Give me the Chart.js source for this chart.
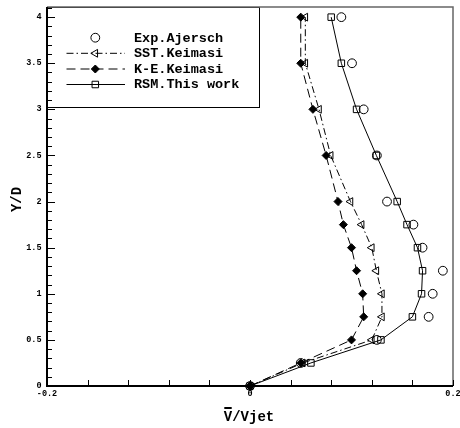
<!DOCTYPE html>
<html>
<head>
<meta charset="utf-8">
<script src="https://cdn.jsdelivr.net/npm/chart.js@4/dist/chart.umd.min.js"></script>
<style>
    html, body { margin: 0; padding: 0; background: #fff; }
    #wrap { width: 460px; height: 428px; }
</style>
</head>
<body>
<div id="wrap"><canvas id="profile" width="460" height="428"></canvas></div>
<script>
// Y/D stations
const yLevels = [0, 0.25, 0.5, 0.75, 1, 1.25, 1.5, 1.75, 2, 2.5, 3, 3.5, 4];

// V/Vjet per series, same order as yLevels
const expAjersch = [0, 0.050, 0.125, 0.176, 0.180, 0.190, 0.170, 0.161, 0.135, 0.125, 0.112, 0.1005, 0.090];
const sstKeimasi = [0, 0.052, 0.120, 0.130, 0.130, 0.1245, 0.120, 0.110, 0.099, 0.0795, 0.068, 0.0545, 0.0545];
const keKeimasi  = [0, 0.050, 0.100, 0.112, 0.111, 0.105, 0.100, 0.092, 0.0867, 0.075, 0.062, 0.050, 0.050];
const rsmThisWork = [0, 0.060, 0.129, 0.160, 0.169, 0.170, 0.165, 0.1547, 0.145, 0.1245, 0.105, 0.090, 0.080];

const seriesNames = ['Exp.Ajersch', 'SST.Keimasi', 'K-E.Keimasi', 'RSM.This work'];

// axis ticks
const xTickMarks = [-0.2, -0.16, -0.12, -0.08, -0.04, 0, 0.04, 0.08, 0.12, 0.16, 0.2];
const xTickLabels = ['-0.2', '0', '0.2'];
const yTickLabels = ['0', '0.5', '1', '1.5', '2', '2.5', '3', '3.5', '4'];

function toPoints(xs) {
    return xs.map(function(v, i) { return { x: v, y: yLevels[i] }; });
}

const MONO = '"Liberation Mono", "DejaVu Sans Mono", monospace';

const datasets = [
    {
        label: seriesNames[0],
        data: toPoints(expAjersch),
        showLine: false,
        pointStyle: 'circle',
        pointRadius: 4.4,
        pointBorderWidth: 1,
        borderColor: '#000',
        pointBorderColor: '#000',
        pointBackgroundColor: 'rgba(0,0,0,0)',
    },
    {
        label: seriesNames[1],
        data: toPoints(sstKeimasi),
        showLine: true,
        borderColor: '#000',
        borderWidth: 1,
        borderDash: [7, 3, 1.5, 3],
        pointStyle: 'triangle',
        pointRotation: -90,
        pointRadius: 4.5,
        pointBorderWidth: 1,
        pointBorderColor: '#000',
        pointBackgroundColor: 'rgba(255,255,255,0)',
    },
    {
        label: seriesNames[2],
        data: toPoints(keKeimasi),
        showLine: true,
        borderColor: '#000',
        borderWidth: 1,
        borderDash: [9, 5],
        pointStyle: 'rectRot',
        pointRadius: 4,
        pointBorderWidth: 1,
        pointBorderColor: '#000',
        pointBackgroundColor: '#000',
    },
    {
        label: seriesNames[3],
        data: toPoints(rsmThisWork),
        showLine: true,
        borderColor: '#000',
        borderWidth: 1,
        pointStyle: 'rect',
        pointRadius: 4.6,
        pointBorderWidth: 1,
        pointBorderColor: '#000',
        pointBackgroundColor: 'rgba(255,255,255,0)',
    }
];

/* frame, inward ticks, tick labels, titles and the boxed legend */
const decorPlugin = {
    id: 'decor',
    afterDatasetsDraw: function(chart) {
        const ctx = chart.ctx;
        const area = chart.chartArea;
        const xs = chart.scales.x;
        const ys = chart.scales.y;

        ctx.save();

        // legend box
        const lx0 = area.left, ly0 = area.top, lx1 = 259, ly1 = 107;
        ctx.fillStyle = '#fff';
        ctx.fillRect(lx0, ly0, lx1 - lx0, ly1 - ly0);
        ctx.strokeStyle = '#000';
        ctx.lineWidth = 1;
        ctx.strokeRect(lx0 + 0.5, ly0 + 0.5, lx1 - lx0, ly1 - ly0);

        const rowsY = [37.7, 53.3, 69, 84.5];
        datasets.forEach(function(ds, i) {
            const ry = rowsY[i];
            if (ds.showLine) {
                ctx.beginPath();
                ctx.setLineDash(ds.borderDash || []);
                ctx.strokeStyle = '#000';
                ctx.lineWidth = 1;
                ctx.moveTo(66.5, ry);
                ctx.lineTo(125, ry);
                ctx.stroke();
                ctx.setLineDash([]);
            }
            ctx.strokeStyle = '#000';
            ctx.fillStyle = ds.pointBackgroundColor;
            ctx.lineWidth = 1;
            Chart.helpers.drawPoint(ctx, {
                pointStyle: ds.pointStyle,
                rotation: ds.pointRotation || 0,
                radius: ds.pointRadius,
                borderWidth: 1
            }, 95.3, ry);
            ctx.fillStyle = '#000';
            ctx.font = 'bold 13.5px ' + MONO;
            ctx.textAlign = 'left';
            ctx.textBaseline = 'middle';
            ctx.fillText(ds.label, 134, ry + 0.5);
        });

        // top and right frame
        ctx.strokeStyle = '#666';
        ctx.lineWidth = 1.5;
        ctx.beginPath();
        ctx.moveTo(area.left, area.top);
        ctx.lineTo(area.right, area.top);
        ctx.lineTo(area.right, area.bottom);
        ctx.stroke();

        // left and bottom axes
        ctx.strokeStyle = '#000';
        ctx.lineWidth = 2;
        ctx.beginPath();
        ctx.moveTo(area.left, area.top);
        ctx.lineTo(area.left, area.bottom);
        ctx.lineTo(area.right, area.bottom);
        ctx.stroke();

        // y ticks, pointing inwards
        ctx.lineWidth = 1;
        for (let k = 0; k <= 41; k++) {
            const v = k / 10;
            const py = Math.round(ys.getPixelForValue(v)) + 0.5;
            const len = (k % 5 === 0) ? 8 : 5;
            ctx.beginPath();
            ctx.moveTo(area.left, py);
            ctx.lineTo(area.left + len, py);
            ctx.stroke();
        }

        // x ticks, pointing up
        xTickMarks.forEach(function(v) {
            const px = Math.round(xs.getPixelForValue(v)) + 0.5;
            ctx.beginPath();
            ctx.moveTo(px, area.bottom);
            ctx.lineTo(px, area.bottom - 6);
            ctx.stroke();
        });

        // tick labels
        ctx.fillStyle = '#000';
        ctx.font = 'bold 8.5px ' + MONO;
        ctx.textAlign = 'right';
        ctx.textBaseline = 'middle';
        yTickLabels.forEach(function(t) {
            ctx.fillText(t, 41.5, ys.getPixelForValue(parseFloat(t)));
        });
        ctx.textAlign = 'center';
        ctx.textBaseline = 'top';
        xTickLabels.forEach(function(t) {
            ctx.fillText(t, xs.getPixelForValue(parseFloat(t)), 389.5);
        });

        // axis titles
        ctx.font = 'bold 14px ' + MONO;
        ctx.textAlign = 'center';
        ctx.textBaseline = 'alphabetic';
        const xTitle = 'V/Vjet';
        const cx = (area.left + area.right) / 2 - 1;
        ctx.fillText(xTitle, cx, 421);
        const w = ctx.measureText(xTitle).width;
        const charW = w / xTitle.length;
        ctx.fillRect(cx - w / 2 + 0.5, 407, charW - 1, 2);

        ctx.save();
        ctx.translate(20.5, (area.top + area.bottom) / 2 + 3);
        ctx.rotate(-Math.PI / 2);
        ctx.fillText('Y/D', 0, 0);
        ctx.restore();

        ctx.restore();
    }
};

new Chart(document.getElementById('profile'), {
    type: 'scatter',
    data: { datasets: datasets },
    options: {
        responsive: false,
        animation: false,
        devicePixelRatio: 1,
        layout: { padding: { left: 47, right: 7, top: 7, bottom: 42 } },
        plugins: { legend: { display: false }, tooltip: { enabled: false } },
        elements: { line: { tension: 0 } },
        datasets: { scatter: { clip: false } },
        scales: {
            x: { type: 'linear', min: -0.2, max: 0.2, display: false },
            y: { type: 'linear', min: 0, max: 4.11, display: false }
        }
    },
    plugins: [decorPlugin]
});
</script>
</body>
</html>
